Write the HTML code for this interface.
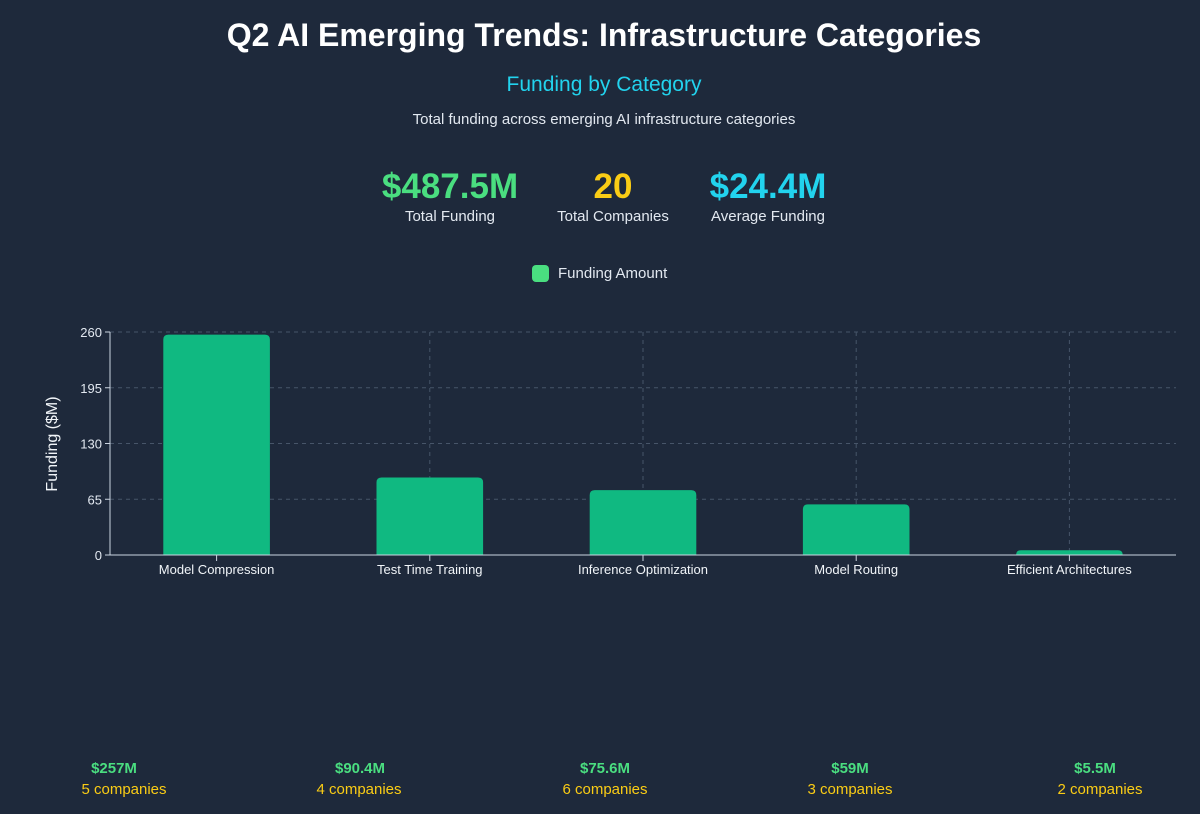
<!DOCTYPE html>
<html><head><meta charset="utf-8"><style>
body{margin:0;width:1200px;height:814px;background:#1e293b;font-family:"Liberation Sans",sans-serif;color:#fff;position:relative;overflow:hidden}
.a{position:absolute;white-space:nowrap;transform:translateX(-50%)}
</style></head><body>
<div class="a" style="left:604px;top:17px;font-size:32px;font-weight:bold">Q2 AI Emerging Trends: Infrastructure Categories</div>
<div class="a" style="left:604px;top:73px;font-size:21px;color:#22d3ee">Funding by Category</div>
<div class="a" style="left:604px;top:111px;font-size:15px;color:#e2e8f0">Total funding across emerging AI infrastructure categories</div>
<div class="a" style="left:450px;top:167px;font-size:35px;font-weight:bold;color:#4ade80">$487.5M</div>
<div class="a" style="left:450px;top:208px;font-size:15px;color:#e2e8f0">Total Funding</div>
<div class="a" style="left:613px;top:167px;font-size:35px;font-weight:bold;color:#facc15">20</div>
<div class="a" style="left:613px;top:208px;font-size:15px;color:#e2e8f0">Total Companies</div>
<div class="a" style="left:768px;top:167px;font-size:35px;font-weight:bold;color:#22d3ee">$24.4M</div>
<div class="a" style="left:768px;top:208px;font-size:15px;color:#e2e8f0">Average Funding</div>
<div style="position:absolute;left:532px;top:265px;width:17px;height:17px;border-radius:4px;background:#4ade80"></div>
<div style="position:absolute;left:558px;top:265px;font-size:15px;color:#e2e8f0">Funding Amount</div>
<svg id="chart" width="1200" height="814" style="position:absolute;left:0;top:0"></svg>
<div id="bottom"></div>
<script>
const categories=["Model Compression","Test Time Training","Inference Optimization","Model Routing","Efficient Architectures"];
const funding=[257,90.4,75.6,59,5.5];
const companies=[5,4,6,3,2];
const valueLabels=["$257M","$90.4M","$75.6M","$59M","$5.5M"];
const yTicks=[0,65,130,195,260];
const NS="http://www.w3.org/2000/svg";
const svg=document.getElementById('chart');
const L=110,R=1176,T=332,B=555,yMax=260;
const band=(R-L)/categories.length;
const y=v=>B-(v/yMax)*(B-T);
const xc=i=>L+band*(i+0.5);
function mk(t,a){const e=document.createElementNS(NS,t);for(const k in a)e.setAttribute(k,a[k]);svg.appendChild(e);return e;}
yTicks.forEach(v=>{
  const g=mk('line',{x1:L,x2:R,y1:y(v),y2:y(v),stroke:'#475569','stroke-dasharray':'4 4','stroke-width':1});
  
  
  const t=mk('text',{x:L-8,y:y(v)+5,'text-anchor':'end',fill:'#e2e8f0','font-size':13});
  t.textContent=v;
  
  
  mk('line',{x1:L-5,x2:L,y1:y(v),y2:y(v),stroke:'#cbd5e1'});
});
categories.forEach((c,i)=>{
  if(i>0){const g=mk('line',{x1:xc(i),x2:xc(i),y1:T,y2:B,stroke:'#475569','stroke-dasharray':'4 4'});
  
  }
  const w=band*0.5,x0=xc(i)-w/2,yt=y(funding[i]),h=B-yt,r=Math.min(5,h);
  const p=mk('path',{d:`M${x0},${B}V${yt+r}Q${x0},${yt} ${x0+r},${yt}H${x0+w-r}Q${x0+w},${yt} ${x0+w},${yt+r}V${B}Z`,fill:'#10b981'});
  
  
  mk('line',{x1:xc(i),x2:xc(i),y1:B,y2:B+6,stroke:'#cbd5e1'});
  const t=mk('text',{x:xc(i),y:B+19,'text-anchor':'middle',fill:'#f1f5f9','font-size':13});
  t.textContent=c;
  
  
});
const ax=mk('line',{x1:L,x2:L,y1:T,y2:B,stroke:'#cbd5e1'});


const bx=mk('line',{x1:L,x2:R,y1:B,y2:B,stroke:'#cbd5e1'});


const yt=mk('text',{x:0,y:0,transform:'translate(57,444) rotate(-90)','text-anchor':'middle',fill:'#f1f5f9','font-size':16});
yt.textContent='Funding ($M)';


const bottom=document.getElementById('bottom');
const colX=[124,359,605,850,1100];
const valX=[114,360,605,850,1095];
categories.forEach((c,i)=>{
  const v=document.createElement('div');
  v.className='a';
  v.style.cssText=`left:${valX[i]}px;top:760px;font-size:15px;font-weight:bold;color:#4ade80`;
  v.textContent=valueLabels[i];
  
  
  bottom.appendChild(v);
  const n=document.createElement('div');
  n.className='a';
  n.style.cssText=`left:${colX[i]}px;top:781px;font-size:15px;color:#facc15`;
  n.textContent=companies[i]+' companies';
  
  
  bottom.appendChild(n);
});
</script>
</body></html>
